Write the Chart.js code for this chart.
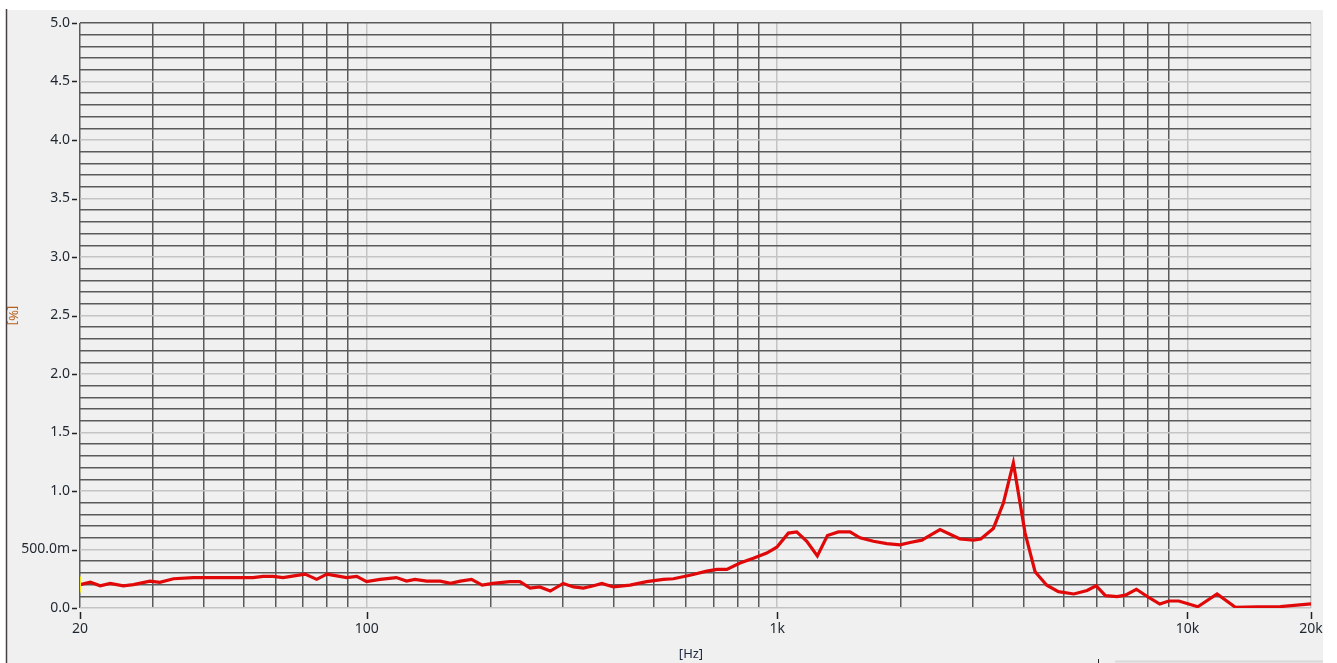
<!DOCTYPE html>
<html><head><meta charset="utf-8">
<script src="https://cdn.jsdelivr.net/npm/chart.js@4.4.1/dist/chart.umd.min.js"></script>
<style>html,body{margin:0;padding:0;background:#fff;overflow:hidden}canvas{display:block}</style>
</head><body>
<canvas id="c" width="1337" height="663"></canvas>
<script>
// Frequencies [Hz] and THD values [%]
const freqs = [
  20, 21.2, 22.4, 23.7, 25.5, 27, 29.6, 31.3, 33.8, 37.8,
  42.2, 47.2, 52.8, 55.9, 59.1, 62.5, 66.5, 70.7, 75.5, 79.9,
  84.5, 89.3, 94.5, 99.9, 107.7, 118, 125, 131, 140, 151,
  160, 169, 180, 191, 203, 223, 236, 250, 264, 280,
  301, 319, 337, 357, 374, 399, 438, 481, 528, 559,
  613, 674, 713, 754, 812, 875, 943, 998, 1065, 1116,
  1181, 1253, 1326, 1410, 1505, 1592, 1716, 1850, 1993, 2108,
  2252, 2358, 2494, 2638, 2790, 3008, 3135, 3364, 3558, 3764,
  4020, 4252, 4540, 4846, 5284, 5693, 5988, 6310, 6738, 7058,
  7506, 8048, 8561, 9004, 9524, 10072, 10596, 11806, 13084, 14784,
  16846, 20000
];
const thd = [
  0.20, 0.22, 0.19, 0.21, 0.19, 0.20, 0.23, 0.22, 0.25, 0.26,
  0.26, 0.26, 0.26, 0.27, 0.27, 0.26, 0.275, 0.29, 0.245, 0.29,
  0.275, 0.26, 0.27, 0.225, 0.245, 0.26, 0.23, 0.245, 0.23, 0.23,
  0.21, 0.23, 0.245, 0.195, 0.21, 0.225, 0.225, 0.17, 0.18, 0.145,
  0.21, 0.18, 0.17, 0.19, 0.21, 0.18, 0.195, 0.225, 0.245, 0.25,
  0.28, 0.315, 0.33, 0.33, 0.385, 0.425, 0.47, 0.52, 0.64, 0.65,
  0.57, 0.445, 0.62, 0.65, 0.65, 0.60, 0.57, 0.55, 0.54, 0.56,
  0.58, 0.62, 0.67, 0.63, 0.59, 0.58, 0.59, 0.68, 0.895, 1.24,
  0.64, 0.31, 0.195, 0.14, 0.12, 0.15, 0.19, 0.105, 0.097, 0.11,
  0.16, 0.09, 0.034, 0.06, 0.06, 0.034, 0.011, 0.12, 0.006, 0.01,
  0.012, 0.035
];
// Cursor marker at the start of the sweep
const cursorFreq = [20];
const cursorVal = [0.2];

// Axis grid / tick definitions
const xGridValues = [20,30,40,50,60,70,80,90,100,200,300,400,500,600,700,800,900,
  1000,2000,3000,4000,5000,6000,7000,8000,9000,10000,20000];
const xDecades = [100, 1000, 10000, 20000];
const xTickValues = [20, 100, 1000, 10000, 20000];
const xTickLabels = ['20', '100', '1k', '10k', '20k'];
const yTickValues = [0, 0.5, 1, 1.5, 2, 2.5, 3, 3.5, 4, 4.5, 5];
const yTickLabels = ['0.0', '500.0m', '1.0', '1.5', '2.0', '2.5', '3.0', '3.5', '4.0', '4.5', '5.0'];
const yMin = 0, yMax = 5, yMinorDiv = 50;

const DARK = '#5a5a5a', LIGHT = '#c4c4c4', BG = '#f0f0f0';

const panelPlugin = {
  id: 'panel',
  beforeDraw(chart) {
    const c = chart.ctx;
    c.save();
    c.fillStyle = '#ffffff';
    c.fillRect(0, 0, chart.width, chart.height);
    c.fillStyle = BG;
    c.fillRect(7, 10, 1316, 653);
    c.strokeStyle = '#4a4040';
    c.lineWidth = 1.5;
    c.beginPath(); c.moveTo(6.5, 9); c.lineTo(6.5, 663); c.stroke();
    c.strokeStyle = '#d8d8d8';
    c.lineWidth = 2;
    c.beginPath(); c.moveTo(1115, 661.5); c.lineTo(1323, 661.5); c.stroke();
    c.strokeStyle = '#222';
    c.lineWidth = 1;
    c.beginPath(); c.moveTo(1098.5, 659); c.lineTo(1098.5, 663); c.stroke();
    c.restore();
  },
  afterDraw(chart) {
    const c = chart.ctx, a = chart.chartArea;
    const xs = chart.scales.x, ys = chart.scales.y;
    // tick marks, positioned by the scales
    c.save();
    c.strokeStyle = '#222';
    c.lineWidth = 1.5;
    c.beginPath();
    xTickValues.forEach(v => {
      const px = Math.round(xs.getPixelForValue(v)) + 0.5;
      c.moveTo(px, a.bottom + 4); c.lineTo(px, a.bottom + 11);
    });
    yTickValues.forEach(v => {
      const py = Math.round(ys.getPixelForValue(v)) + 0.5;
      c.moveTo(a.left - 8, py); c.lineTo(a.left - 3, py);
    });
    c.stroke();
    c.restore();
    // axis unit titles
    c.save();
    c.font = '13px "Noto Sans", sans-serif';
    c.textAlign = 'center';
    c.textBaseline = 'middle';
    c.fillStyle = '#b5601c';
    c.translate(12.5, (a.top + a.bottom) / 2);
    c.rotate(Math.PI / 2);
    c.fillText('[%]', 0, 0);
    c.restore();
    c.save();
    c.font = '13px "Noto Sans", sans-serif';
    c.textAlign = 'center';
    c.textBaseline = 'top';
    c.fillStyle = '#1e2840';
    c.fillText('[Hz]', 691, 648);
    c.restore();
  }
};

new Chart(document.getElementById('c'), {
  type: 'line',
  data: {
    datasets: [
      {
        data: cursorFreq.map((f, i) => ({ x: f, y: cursorVal[i] })),
        showLine: false,
        pointStyle: 'line',
        rotation: 90,
        pointRadius: 8,
        pointBorderWidth: 2,
        borderColor: '#f2e41a',
        backgroundColor: '#f2e41a'
      },
      {
        data: freqs.map((f, i) => ({ x: f, y: thd[i] })),
        borderColor: '#e00808',
        borderWidth: 3.2,
        pointRadius: 0,
        tension: 0,
        fill: false
      }
    ]
  },
  options: {
    responsive: false,
    animation: false,
    devicePixelRatio: 1,
    layout: { padding: { left: 0, right: 26, top: 23, bottom: 0 } },
    plugins: { legend: { display: false }, tooltip: { enabled: false } },
    scales: {
      x: {
        type: 'logarithmic',
        min: 20, max: 20000,
        afterFit(s) { s.height = 55; },
        afterBuildTicks(s) { s.ticks = xGridValues.map(v => ({ value: v })); },
        border: { display: false },
        grid: {
          lineWidth: 1.5,
          color: ctx => (ctx.tick && xDecades.includes(ctx.tick.value)) ? LIGHT : DARK,
          tickColor: 'rgba(0,0,0,0)',
          tickLength: 11
        },
        ticks: {
          autoSkip: false, maxRotation: 0, minRotation: 0,
          padding: 2,
          color: '#1e2630',
          font: { family: '"Noto Sans", sans-serif', size: 14 },
          callback: v => { const i = xTickValues.indexOf(v); return i >= 0 ? xTickLabels[i] : ''; }
        }
      },
      y: {
        type: 'linear',
        min: yMin, max: yMax,
        afterFit(s) { s.width = 80; },
        afterBuildTicks(s) {
          const t = [];
          for (let i = 0; i <= yMinorDiv; i++) t.push({ value: yMin + (yMax - yMin) * i / yMinorDiv });
          s.ticks = t;
        },
        border: { display: false },
        grid: {
          lineWidth: 1.5,
          color: ctx => {
            if (!ctx.tick) return DARK;
            const k = Math.round(ctx.tick.value * 10);
            if (k === 50) return DARK;
            return (k % 5 === 0) ? LIGHT : DARK;
          },
          tickColor: 'rgba(0,0,0,0)',
          tickLength: 9
        },
        ticks: {
          autoSkip: false,
          padding: 1,
          color: '#1e2630',
          font: { family: '"Noto Sans", sans-serif', size: 14 },
          callback: v => {
            const k = Math.round(v * 10);
            const i = yTickValues.findIndex(t => Math.round(t * 10) === k);
            return i >= 0 ? yTickLabels[i] : '';
          }
        }
      }
    }
  },
  plugins: [panelPlugin]
});
</script>
</body></html>
